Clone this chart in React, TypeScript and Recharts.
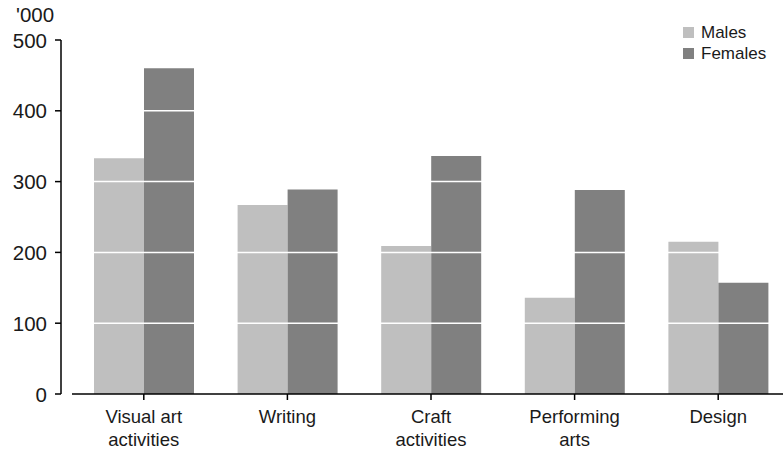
import React from 'react';
import { BarChart, Bar, XAxis, YAxis, Legend, ReferenceLine } from 'recharts';

const categories = ['Visual art activities', 'Writing', 'Craft activities', 'Performing arts', 'Design'];
const categoryLines = [['Visual art', 'activities'], ['Writing'], ['Craft', 'activities'], ['Performing', 'arts'], ['Design']];
const seriesNames = ['Males', 'Females'];
const males = [333, 267, 209, 136, 215];
const females = [460, 289, 336, 288, 157];
const yTicks = [0, 100, 200, 300, 400, 500];
const gridValues = [100, 200, 300, 400];
const unitLabel = "'000";

const FONT = '"Liberation Sans", Arial, sans-serif';
const TEXT = '#1a1a1a';
const seriesColors = ['#bfbfbf', '#808080'];

const chartData = categories.map((name, i) => ({
  name,
  Males: males[i],
  Females: females[i],
}));

const YTick = (props: any) => {
  const { x, y, payload } = props;
  return (
    <text x={x - 17} y={y} textAnchor="end" dominantBaseline="central" fontFamily={FONT} fontSize={20.5} fill={TEXT}>
      {payload.value}
    </text>
  );
};

const XTick = (props: any) => {
  const { x, y, payload } = props;
  const lines = categoryLines[categories.indexOf(payload.value)] || [payload.value];
  return (
    <text x={x} y={y} textAnchor="middle" fontFamily={FONT} fontSize={18.5} fill={TEXT}>
      {lines.map((line, i) => (
        <tspan key={i} x={x} dy={i === 0 ? 21 : 23}>
          {line}
        </tspan>
      ))}
    </text>
  );
};

// legend keeps the series order of the source, not recharts' payload order
const renderLegend = () => (
  <div style={{ fontFamily: FONT, fontSize: 17, color: TEXT }}>
    {seriesNames.map((name, i) => (
      <div key={name} style={{ display: 'flex', alignItems: 'center', height: 21 }}>
        <span style={{ width: 11, height: 11, background: seriesColors[i], marginRight: 7, display: 'inline-block' }} />
        <span>{name}</span>
      </div>
    ))}
  </div>
);

export default function App() {
  return (
    <div style={{ position: 'absolute', left: 0, top: 0, width: 783, height: 452, overflow: 'hidden', background: '#fff' }}>
      <div style={{ position: 'absolute', left: 16, top: 3, fontFamily: FONT, fontSize: 20.5, color: TEXT }}>{unitLabel}</div>
      <BarChart
        width={790}
        height={452}
        data={chartData}
        margin={{ top: 40, right: 0, left: 0, bottom: 0 }}
        barSize={50}
        barGap={0}
      >
        <XAxis
          dataKey="name"
          height={58}
          tickSize={6}
          axisLine={{ stroke: '#000', strokeWidth: 1.5 }}
          tickLine={{ stroke: '#000', strokeWidth: 1.5 }}
          tick={<XTick />}
          interval={0}
        />
        <YAxis
          width={72}
          domain={[0, 500]}
          ticks={yTicks}
          tickSize={6}
          axisLine={{ stroke: '#000', strokeWidth: 1.5, transform: 'translate(-11,0)' }}
          tickLine={{ stroke: '#000', strokeWidth: 1.5, transform: 'translate(-11,0)' }}
          tick={<YTick />}
        />
        <Legend
          layout="vertical"
          align="center"
          verticalAlign="middle"
          content={renderLegend}
          wrapperStyle={{ position: 'absolute', left: 683, top: 22, width: 100, height: 42 }}
        />
        <Bar dataKey={seriesNames[0]} fill={seriesColors[0]} isAnimationActive={false} />
        <Bar dataKey={seriesNames[1]} fill={seriesColors[1]} isAnimationActive={false} />
        {gridValues.map((v) => (
          <ReferenceLine key={v} y={v} stroke="#fff" strokeWidth={1.5} />
        ))}
      </BarChart>
    </div>
  );
}
